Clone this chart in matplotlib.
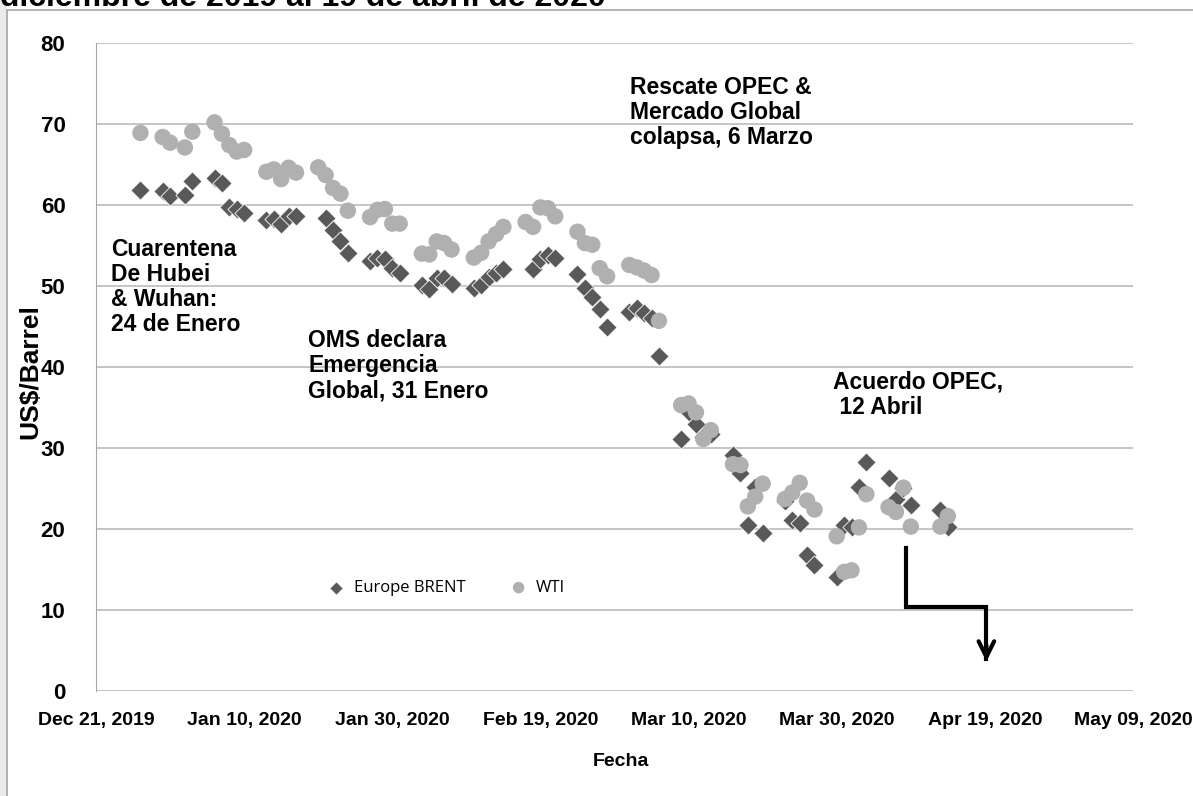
import pandas as pd
import numpy as np
import matplotlib.pyplot as plt
import matplotlib.dates as mdates
from matplotlib.patches import Rectangle

plt.rcParams['font.family'] = ['Liberation Sans', 'DejaVu Sans']

# trading days
brent_dates = ['2019-12-27', '2019-12-30', '2019-12-31', '2020-01-02', '2020-01-03',
               '2020-01-06', '2020-01-07', '2020-01-08', '2020-01-09', '2020-01-10',
               '2020-01-13', '2020-01-14', '2020-01-15', '2020-01-16', '2020-01-17',
               '2020-01-21', '2020-01-22', '2020-01-23', '2020-01-24',
               '2020-01-27', '2020-01-28', '2020-01-29', '2020-01-30', '2020-01-31',
               '2020-02-03', '2020-02-04', '2020-02-05', '2020-02-06', '2020-02-07',
               '2020-02-10', '2020-02-11', '2020-02-12', '2020-02-13', '2020-02-14',
               '2020-02-18', '2020-02-19', '2020-02-20', '2020-02-21',
               '2020-02-24', '2020-02-25', '2020-02-26', '2020-02-27', '2020-02-28',
               '2020-03-02', '2020-03-03', '2020-03-04', '2020-03-05', '2020-03-06',
               '2020-03-09', '2020-03-10', '2020-03-11', '2020-03-12', '2020-03-13',
               '2020-03-16', '2020-03-17', '2020-03-18', '2020-03-19', '2020-03-20',
               '2020-03-23', '2020-03-24', '2020-03-25', '2020-03-26', '2020-03-27',
               '2020-03-30', '2020-03-31', '2020-04-01', '2020-04-02', '2020-04-03',
               '2020-04-06', '2020-04-07', '2020-04-08', '2020-04-09',
               '2020-04-13', '2020-04-14']
brent = [61.85, 61.7, 61.1, 61.2, 63.0,
         63.3, 62.75, 59.7, 59.5, 59.0,
         58.2, 58.3, 57.7, 58.6, 58.6,
         58.4, 56.9, 55.6, 54.1,
         53.1, 53.4, 53.3, 52.2, 51.6,
         50.1, 49.6, 51.0, 51.0, 50.3,
         49.7, 50.1, 51.1, 51.6, 52.1,
         52.1, 53.3, 53.8, 53.4,
         51.5, 49.8, 48.7, 47.2, 44.9,
         46.8, 47.3, 46.7, 46.0, 41.3,
         31.1, 34.5, 33.0, 31.4, 31.7,
         29.1, 26.9, 20.5, 25.2, 19.5,
         23.4, 21.1, 20.8, 16.8, 15.5,
         14.1, 20.5, 20.3, 25.2, 28.3,
         26.3, 23.7, 25.1, 23.0,
         22.4, 20.2]

wti_dates = ['2019-12-27', '2019-12-30', '2019-12-31', '2020-01-02', '2020-01-03',
             '2020-01-06', '2020-01-07', '2020-01-08', '2020-01-09', '2020-01-10',
             '2020-01-13', '2020-01-14', '2020-01-15', '2020-01-16', '2020-01-17',
             '2020-01-20', '2020-01-21', '2020-01-22', '2020-01-23', '2020-01-24',
             '2020-01-27', '2020-01-28', '2020-01-29', '2020-01-30', '2020-01-31',
             '2020-02-03', '2020-02-04', '2020-02-05', '2020-02-06', '2020-02-07',
             '2020-02-10', '2020-02-11', '2020-02-12', '2020-02-13', '2020-02-14',
             '2020-02-17', '2020-02-18', '2020-02-19', '2020-02-20', '2020-02-21',
             '2020-02-24', '2020-02-25', '2020-02-26', '2020-02-27', '2020-02-28',
             '2020-03-02', '2020-03-03', '2020-03-04', '2020-03-05', '2020-03-06',
             '2020-03-09', '2020-03-10', '2020-03-11', '2020-03-12', '2020-03-13',
             '2020-03-16', '2020-03-17', '2020-03-18', '2020-03-19', '2020-03-20',
             '2020-03-23', '2020-03-24', '2020-03-25', '2020-03-26', '2020-03-27',
             '2020-03-30', '2020-03-31', '2020-04-01', '2020-04-02', '2020-04-03',
             '2020-04-06', '2020-04-07', '2020-04-08', '2020-04-09',
             '2020-04-13', '2020-04-14']
wti = [68.9, 68.4, 67.7, 67.1, 69.05,
       70.2, 68.8, 67.4, 66.6, 66.8,
       64.1, 64.4, 63.2, 64.6, 64.0,
       64.65, 63.7, 62.1, 61.4, 59.3,
       58.5, 59.4, 59.5, 57.7, 57.7,
       54.0, 53.9, 55.5, 55.3, 54.5,
       53.5, 54.1, 55.5, 56.4, 57.3,
       57.9, 57.3, 59.7, 59.6, 58.6,
       56.7, 55.3, 55.1, 52.2, 51.2,
       52.6, 52.3, 51.9, 51.35, 45.7,
       35.3, 35.5, 34.4, 31.1, 32.2,
       28.0, 27.9, 22.8, 24.0, 25.6,
       23.7, 24.5, 25.7, 23.5, 22.4,
       19.1, 14.7, 14.9, 20.2, 24.3,
       22.7, 22.1, 25.1, 20.3,
       20.3, 21.6]

brent_dates = pd.to_datetime(brent_dates)
wti_dates = pd.to_datetime(wti_dates)

W, H = 1193, 796
fig = plt.figure(figsize=(W / 100, H / 100), dpi=100)

# grey strip on the far left and the outer chart border
fig.patches.append(Rectangle((0, 0), 7 / W, 1, transform=fig.transFigure,
                             facecolor='#e9ebef', edgecolor='none'))
fig.patches.append(Rectangle((7 / W, -0.1), 1.2, 1 - 10 / H + 0.1, transform=fig.transFigure,
                             fill=False, edgecolor='#a6a6a6', lw=1.2))

ax = fig.add_axes([96 / W, 1 - 691 / H, (1133 - 96) / W, (691 - 43) / H])

ax.scatter(brent_dates, brent, marker='D', s=95, color='#595959', edgecolor='white',
           linewidth=0.6, label='Europe BRENT', zorder=3)
ax.scatter(wti_dates, wti, marker='o', s=140, color='#b0b0b0', edgecolor='none',
           label='WTI', zorder=4)

ax.set_xlim(pd.Timestamp('2019-12-21'), pd.Timestamp('2020-05-09'))
ax.set_ylim(0, 80)
ax.set_yticks(np.arange(0, 81, 10))
ax.set_xticks(pd.date_range('2019-12-21', '2020-05-09', freq='20D'))
ax.xaxis.set_major_formatter(mdates.DateFormatter('%b %d, %Y'))
ax.grid(axis='y', color='#c0c0c0', lw=1.3)
ax.set_axisbelow(True)
for s in ['top', 'right', 'bottom']:
    ax.spines[s].set_visible(False)
ax.spines['left'].set_color('#a6a6a6')
ax.tick_params(length=0)
ax.tick_params(axis='y', pad=22, labelsize=16)
ax.tick_params(axis='x', pad=15, labelsize=14)
for lbl in ax.get_xticklabels() + ax.get_yticklabels():
    lbl.set_fontweight('bold')

# arrow
d1 = pd.Timestamp('2020-04-08 08:00')
d2 = pd.Timestamp('2020-04-19 05:00')
ax.plot([d1, d1, d2, d2], [17.6, 10.4, 10.4, 4.0], color='black', lw=3,
        solid_joinstyle='miter', zorder=5)
ax.annotate('', xy=(d2, 3.3), xytext=(d2, 6.0),
            arrowprops=dict(arrowstyle='->', lw=3, color='black', mutation_scale=28))

leg = ax.legend(loc='center', bbox_to_anchor=(0.334, 0.159), ncol=2, frameon=False,
                prop={'family': 'Open Sans', 'size': 12}, handletextpad=0.05,
                columnspacing=2.2, markerscale=0.7)

bold = dict(fontweight='bold', fontsize=16.5, va='top', ha='left', linespacing=1.12)
fig.text(111 / W, 1 - 238 / H, 'Cuarentena\nDe Hubei\n& Wuhan:\n24 de Enero', **bold)
fig.text(308 / W, 1 - 329 / H, 'OMS declara\nEmergencia\nGlobal, 31 Enero', **bold)
fig.text(630 / W, 1 - 76 / H, 'Rescate OPEC &\nMercado Global\ncolapsa, 6 Marzo', **bold)
fig.text(833 / W, 1 - 371 / H, 'Acuerdo OPEC,\n 12 Abril', **bold)

fig.text(0, 1 - 6 / H, 'diciembre de 2019 al 19 de abril de 2020', fontsize=23,
         fontweight='bold', va='baseline', ha='left')
fig.text(30 / W, 1 - 372 / H, 'US$/Barrel', rotation=90, fontsize=19, fontweight='bold',
         va='center', ha='center')
fig.text(621 / W, 1 - 762 / H, 'Fecha', fontsize=14, fontweight='bold',
         va='center', ha='center')

fig.savefig('out.png', dpi=100)
